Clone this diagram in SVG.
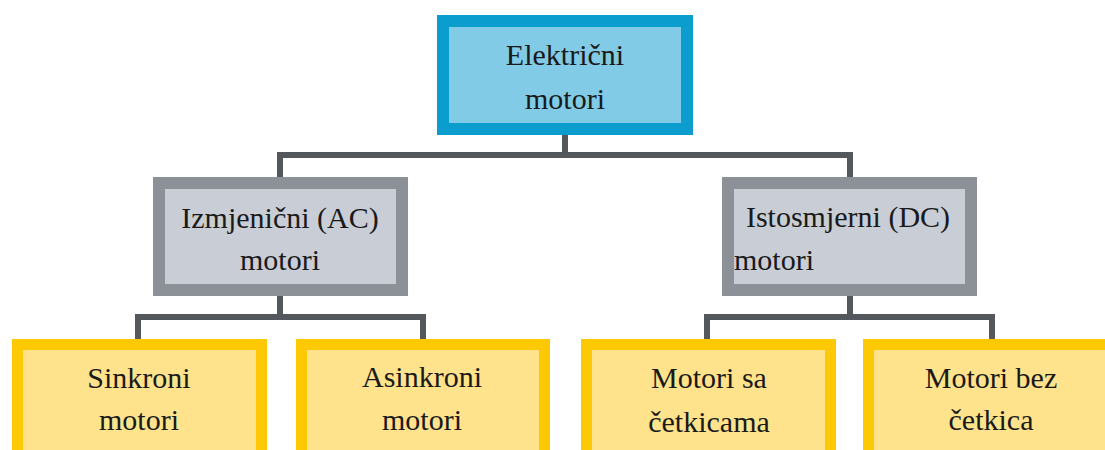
<svg xmlns="http://www.w3.org/2000/svg" width="1105" height="450" viewBox="0 0 1105 450">
<style>
.c{fill:none;stroke:#54585c;stroke-width:6;stroke-linejoin:miter;stroke-linecap:butt}
.top{fill:#82cbe6;stroke:#0a9dcd;stroke-width:12}
.mid{fill:#c9ced6;stroke:#8c9197;stroke-width:12}
.leaf{fill:#fee38c;stroke:#fdc905;stroke-width:11}
.t{font-size:30px;fill:#1a1a1a;text-anchor:middle}
</style>
<rect width="1105" height="450" fill="#ffffff"/>
<g id="connectors">
<path class="c" d="M565 135V155"/>
<path class="c" d="M280 177V155H850V177"/>
<path class="c" d="M280 296V317"/>
<path class="c" d="M138 339V317H423V339"/>
<path class="c" d="M850 296V317"/>
<path class="c" d="M707 339V317H992V339"/>
</g>
<g font-family="Liberation Serif, DejaVu Serif, serif">
<g id="n-elektricni">
<rect class="top" x="443" y="21" width="244" height="108"/>
<text class="t" x="565" y="65">Električni</text>
<text class="t" x="565" y="109">motori</text>
</g>
<g id="n-ac">
<rect class="mid" x="159" y="183" width="243" height="107"/>
<text class="t" x="280" y="228">Izmjenični (AC)</text>
<text class="t" x="280" y="270">motori</text>
</g>
<g id="n-dc">
<rect class="mid" x="728" y="183" width="243" height="107"/>
<text class="t" x="848" y="227">Istosmjerni (DC)</text>
<text class="t" x="734" y="270" text-anchor="start" style="text-anchor:start">motori</text>
</g>
<g id="n-sinkroni">
<rect class="leaf" x="17.5" y="344.5" width="244" height="120"/>
<text class="t" x="139" y="388">Sinkroni</text>
<text class="t" x="139" y="430">motori</text>
</g>
<g id="n-asinkroni">
<rect class="leaf" x="301.5" y="344.5" width="243" height="120"/>
<text class="t" x="422" y="387">Asinkroni</text>
<text class="t" x="422" y="430">motori</text>
</g>
<g id="n-sa">
<rect class="leaf" x="586.5" y="344.5" width="244" height="120"/>
<text class="t" x="709" y="388">Motori sa</text>
<text class="t" x="709" y="432">četkicama</text>
</g>
<g id="n-bez">
<rect class="leaf" x="868.5" y="344.5" width="244" height="120"/>
<text class="t" x="991" y="388">Motori bez</text>
<text class="t" x="991" y="430">četkica</text>
</g>
</g>
</svg>
